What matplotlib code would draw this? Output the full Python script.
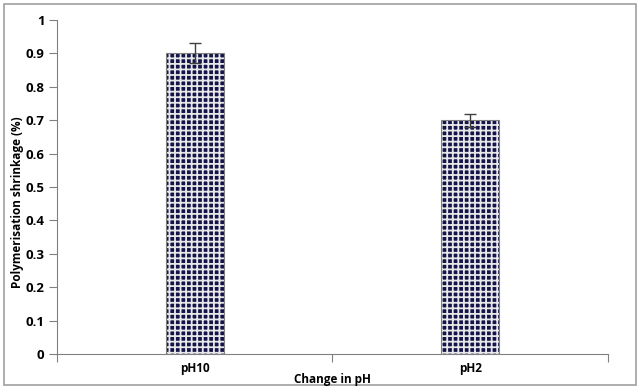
import matplotlib.pyplot as plt
from matplotlib.patches import Rectangle

# data
groups = ["pH10", "pH2"]
shrinkage = [0.90, 0.70]
errors = [0.03, 0.02]

plt.rcParams['font.family'] = ['Open Sans', 'DejaVu Sans']
plt.rcParams['hatch.linewidth'] = 1.3

fig = plt.figure(figsize=(6.4, 3.89), dpi=100)
ax = fig.add_axes([0.089, 0.09, 0.861, 0.8586])

pos = [0.5, 1.5]
# navy fill, light check hatch on top
ax.bar(pos, shrinkage, width=0.21, color="#14144a", edgecolor="none", zorder=2)
ax.bar(pos, shrinkage, width=0.21, color="none", edgecolor="#e8e8e8",
       hatch="+++", linewidth=0, zorder=3)
ax.bar(pos, shrinkage, width=0.21, color="none", edgecolor="#808080",
       linewidth=0.8, zorder=4)
ax.errorbar(pos, shrinkage, yerr=errors, fmt="none", ecolor="#404040",
            elinewidth=1.0, capsize=4, capthick=1.0, zorder=5)

ax.set_xlim(0, 2)
ax.set_ylim(0, 1)
ax.set_yticks([i / 10 for i in range(11)])
ax.set_yticklabels(["0"] + ["0.%d" % i for i in range(1, 10)] + ["1"],
                   fontsize=9.5, fontweight="bold")
ax.set_xticks([0, 1, 2])
ax.set_xticklabels([])
ax.set_xticks(pos, minor=True)
ax.set_xticklabels(groups, minor=True, fontsize=8.5, fontweight="bold")
ax.tick_params(axis="x", which="minor", length=0, pad=6)
ax.tick_params(axis="x", which="major", length=6, color="#808080")
ax.tick_params(axis="y", length=6, color="#808080", pad=3)

for s in ["top", "right"]:
    ax.spines[s].set_visible(False)
for s in ["left", "bottom"]:
    ax.spines[s].set_color("#808080")

fig.text(0.027, 0.48, "Polymerisation shrinkage (%)", rotation=90,
         ha="center", va="center", fontsize=8.5, fontweight="bold")
fig.text(0.519, 0.025, "Change in pH", ha="center", va="center",
         fontsize=8.5, fontweight="bold")

# outer frame
fig.patches.append(Rectangle((0.006, 0.01), 0.988, 0.98, transform=fig.transFigure,
                             fill=False, edgecolor="#a0a0a0", linewidth=1.2))

fig.savefig("out.png", dpi=100)
